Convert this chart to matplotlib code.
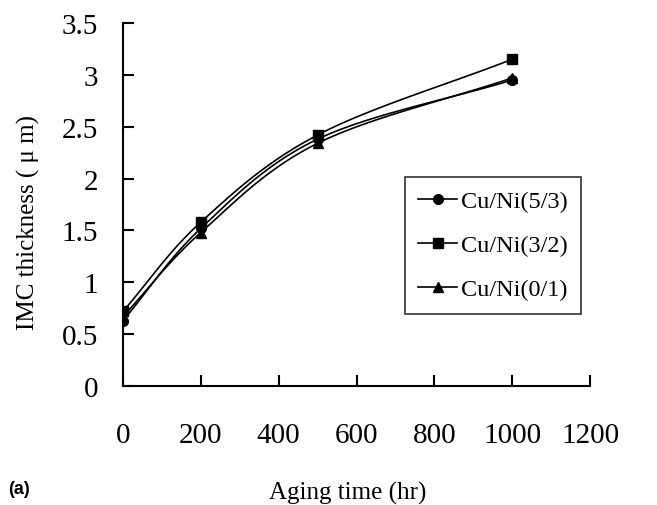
import numpy as np
import matplotlib
matplotlib.use("Agg")
import matplotlib.pyplot as plt
from matplotlib.lines import Line2D

aging_time = [0, 200, 500, 1000]
cuni_53 = [0.63, 1.52, 2.38, 2.95]
cuni_32 = [0.72, 1.58, 2.42, 3.15]
cuni_01 = [0.67, 1.48, 2.34, 2.97]
series_labels = ["Cu/Ni(5/3)", "Cu/Ni(3/2)", "Cu/Ni(0/1)"]
x_ticks = [0, 200, 400, 600, 800, 1000, 1200]
y_ticks = [0, 0.5, 1, 1.5, 2, 2.5, 3, 3.5]
y_tick_labels = ["0", "0.5", "1", "1.5", "2", "2.5", "3", "3.5"]


def smooth(x, y, n=40):
    # Catmull-Rom (Excel-like smoothed line) through the data points
    x = np.asarray(x, float)
    y = np.asarray(y, float)
    px = np.concatenate([[2 * x[0] - x[1]], x, [2 * x[-1] - x[-2]]])
    py = np.concatenate([[2 * y[0] - y[1]], y, [2 * y[-1] - y[-2]]])
    xs, ys = [], []
    t = np.linspace(0, 1, n)
    for i in range(1, len(px) - 2):
        p0, p1, p2, p3 = px[i - 1], px[i], px[i + 1], px[i + 2]
        q0, q1, q2, q3 = py[i - 1], py[i], py[i + 1], py[i + 2]
        b1x, b1y = p1 + (p2 - p0) / 6, q1 + (q2 - q0) / 6
        b2x, b2y = p2 - (p3 - p1) / 6, q2 - (q3 - q1) / 6
        bx = (1 - t) ** 3 * p1 + 3 * (1 - t) ** 2 * t * b1x + 3 * (1 - t) * t ** 2 * b2x + t ** 3 * p2
        by = (1 - t) ** 3 * q1 + 3 * (1 - t) ** 2 * t * b1y + 3 * (1 - t) * t ** 2 * b2y + t ** 3 * q2
        xs.append(bx)
        ys.append(by)
    return np.concatenate(xs), np.concatenate(ys)


plt.rcParams["font.family"] = ["Liberation Serif", "DejaVu Serif"]

fig = plt.figure(figsize=(6.57, 5.06), dpi=100)
ax = fig.add_axes([123 / 657, 1 - 387 / 506, (590 - 123) / 657, (387 - 24) / 506])

markers = ["o", "s", "^"]
handles = []
for yv, m, lab in zip([cuni_53, cuni_32, cuni_01], markers, series_labels):
    sx, sy = smooth(aging_time, yv)
    ax.plot(sx, sy, color="black", lw=1.2, zorder=2)
    ax.plot(aging_time, yv, linestyle="none", marker=m, color="black",
            markersize=7, zorder=3)
    handles.append(Line2D([], [], color="black", lw=1.2, marker=m, markersize=7, label=lab))

ax.set_xlim(0, 1200)
ax.set_ylim(0, 3.5)
ax.set_xticks(x_ticks)
ax.set_yticks(y_ticks)
ax.set_yticklabels(y_tick_labels)
ax.spines["top"].set_visible(False)
ax.spines["right"].set_visible(False)
for s in ["left", "bottom"]:
    ax.spines[s].set_linewidth(1.5)
ax.tick_params(axis="x", direction="in", length=8, width=1.5, pad=26, labelsize=21)
ax.tick_params(axis="y", direction="in", length=8, width=1.5, pad=18, labelsize=21)

fig.text(348 / 657, 1 - 493 / 506, "Aging time (hr)", ha="center", va="center", fontsize=18)
fig.text(28 / 657, 1 - 222 / 506, "IMC thickness ( \u03bc m)", ha="center", va="center",
         rotation=90, fontsize=18)
fig.text(8 / 657, 1 - 490 / 506, "(a)", ha="left", va="center", fontsize=13,
         fontweight="bold", family=["Liberation Sans", "DejaVu Sans"])

leg = ax.legend(handles=handles, loc="upper left",
                bbox_to_anchor=(405 / 657, 1 - 178 / 506), bbox_transform=fig.transFigure,
                borderaxespad=0, fontsize=17.5, frameon=True, fancybox=False,
                handlelength=1.6, handletextpad=0.15, labelspacing=0.9,
                borderpad=0.55)
leg.get_frame().set_edgecolor("black")
leg.get_frame().set_linewidth(1.2)

fig.savefig("out.png", dpi=100)
